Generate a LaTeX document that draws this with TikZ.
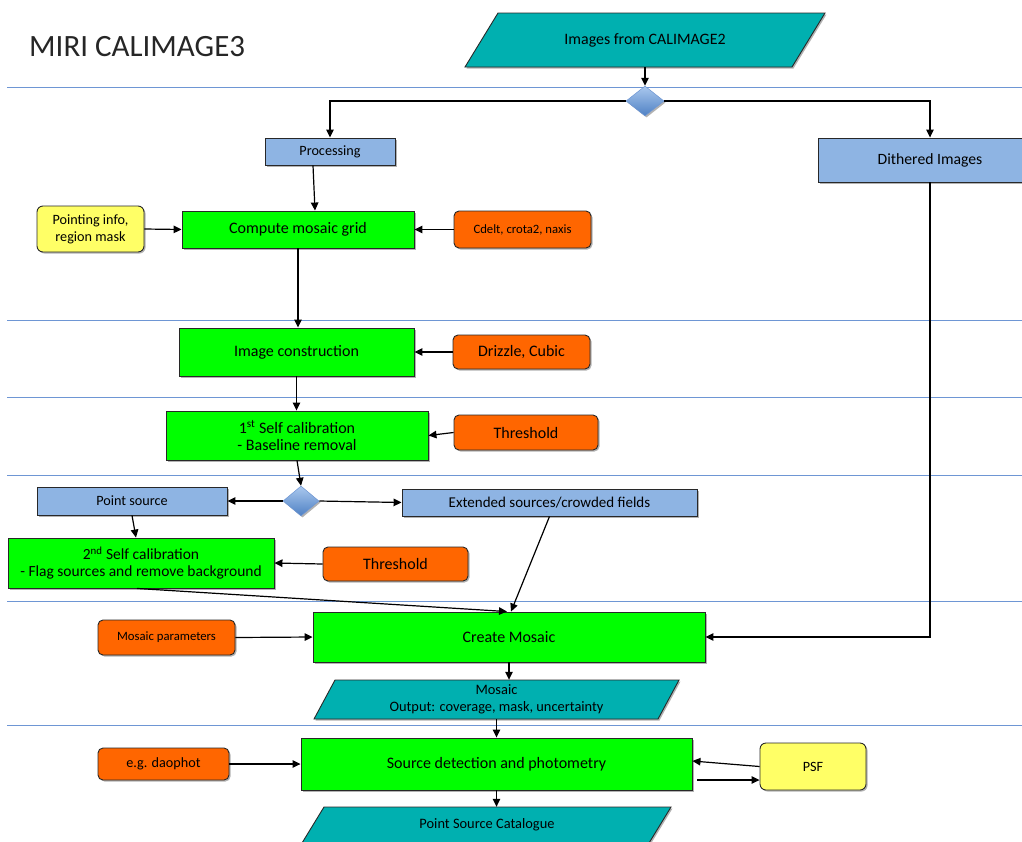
\documentclass[tikz,border=0pt]{standalone}
\usepackage{fontspec}
\setmainfont{Carlito}
\usetikzlibrary{shapes.geometric,arrows.meta,shadows,calc}
\definecolor{boxgreen}{RGB}{0,255,0}
\definecolor{boxorange}{RGB}{255,102,0}
\definecolor{boxyellow}{RGB}{255,255,102}
\definecolor{boxblue}{RGB}{142,180,227}
\definecolor{boxteal}{RGB}{0,176,176}
\definecolor{sepblue}{RGB}{110,150,212}
\definecolor{dtop}{RGB}{170,200,238}
\definecolor{dbot}{RGB}{79,129,196}
\definecolor{edge}{RGB}{40,40,40}
\begin{document}
\begin{tikzpicture}[x=1pt,y=-1pt,
  shadowed/.style={drop shadow={shadow xshift=1.5pt,shadow yshift=-1.5pt,opacity=0.3,fill=black}},
  box/.style={draw=edge,line width=0.9pt,inner sep=1pt,align=center,shadowed,
    font=\fontsize{16}{17}\selectfont},
  greenbox/.style={box,fill=boxgreen},
  bluebox/.style={box,fill=boxblue},
  orangebox/.style={box,fill=boxorange,rounded corners=5pt},
  yellowbox/.style={box,fill=boxyellow,rounded corners=6pt},
  paraframe/.style={draw=edge,line width=0.9pt,fill=boxteal,shadowed},
  paratext/.style={inner sep=0pt,align=center,font=\fontsize{14.4}{17}\selectfont},
  decision/.style={diamond,aspect=1.27,inner sep=0pt,draw=sepblue,line width=0.5pt,
    top color=dtop,bottom color=dbot,shadowed},
  arr/.style={-{Triangle[length=8pt,width=7.5pt]},line width=1.2pt,black},
  sepline/.style={draw=sepblue,line width=1pt},
  small/.style={font=\fontsize{14.2}{17}\selectfont},
  tiny/.style={font=\fontsize{12.7}{15}\selectfont}]
\useasboundingbox (0,0) rectangle (1022,841);
\clip (0,0) rectangle (1022,841);

% separators
\foreach \yy in {87,320,397,475,601,725}
  \draw[sepline] (7,\yy) -- (1022,\yy);

% title
\node[anchor=west,font=\fontsize{31}{31}\selectfont,text=black!85,inner sep=0pt] (title) at (29,47) {MIRI CALIMAGE3};

% top input
\draw[paraframe] (498,13) -- (825,13) -- (792,67) -- (465,67) -- cycle;
\node[paratext,font=\fontsize{15.9}{17}\selectfont,minimum width=300pt,minimum height=54pt] (imgs) at (645,40) {Images from CALIMAGE2};

\node[decision,minimum width=38pt,minimum height=30pt] (d1) at (645,101) {};

\node[bluebox,small,minimum width=130pt,minimum height=27pt] (proc) at (330,151.5) {Processing};
\node[bluebox,font=\fontsize{15.7}{17}\selectfont,minimum width=224pt,minimum height=44pt] (dith) at (930,160) {Dithered Images};

\node[greenbox,minimum width=232pt,minimum height=37pt] (comp) at (298,229.5) {Compute mosaic grid};
\node[yellowbox,small,minimum width=107pt,minimum height=46pt] (pinfo) at (90.5,229) {Pointing info,\\region mask};
\node[orangebox,tiny,minimum width=137pt,minimum height=37pt] (cdelt) at (522.5,229.5) {Cdelt, crota2, naxis};

\node[greenbox,minimum width=235pt,minimum height=48pt] (imgc) at (296.5,352) {Image construction};
\node[orangebox,minimum width=137pt,minimum height=34pt] (drizzle) at (521.5,352) {Drizzle, Cubic};

\node[greenbox,minimum width=262pt,minimum height=49pt] (self1) at (297,435.5) {1\textsuperscript{st} Self calibration\\- Baseline removal};
\node[orangebox,minimum width=144pt,minimum height=35pt] (thr1) at (526,432.5) {Threshold};

\node[decision,minimum width=36pt,minimum height=30pt] (d2) at (301,501) {};
\node[bluebox,small,minimum width=190pt,minimum height=28pt] (ptsrc) at (132,501) {Point source};
\node[bluebox,font=\fontsize{15}{17}\selectfont,minimum width=295pt,minimum height=27pt] (ext) at (549.5,502.5) {Extended sources/crowded fields};

\node[greenbox,font=\fontsize{15.5}{17}\selectfont,minimum width=266pt,minimum height=50pt] (self2) at (141,563) {2\textsuperscript{nd} Self calibration\\- Flag sources and remove background};
\node[orangebox,minimum width=145pt,minimum height=34pt] (thr2) at (395.5,564) {Threshold};

\node[greenbox,minimum width=392pt,minimum height=50pt] (create) at (509,637) {Create Mosaic};
\node[orangebox,tiny,minimum width=137pt,minimum height=35pt] (mospar) at (166.5,637.5) {Mosaic parameters};

\draw[paraframe] (335,680) -- (679,680) -- (658,719) -- (314,719) -- cycle;
\node[paratext,minimum width=320pt,minimum height=39pt] (mos) at (496.5,699.5) {Mosaic\\Output: coverage, mask, uncertainty};

\node[greenbox,minimum width=391pt,minimum height=52pt] (srcdet) at (496.5,764) {Source detection and photometry};
\node[orangebox,small,minimum width=131pt,minimum height=32pt] (daophot) at (163.5,764) {e.g. daophot};
\node[yellowbox,small,minimum width=106pt,minimum height=47pt] (psf) at (813,766.5) {PSF};

\draw[paraframe] (324,807) -- (671,807) -- (649,843) -- (302,843) -- cycle;
\node[paratext,minimum width=320pt,minimum height=36pt] (cat) at (487,825) {Point Source Catalogue};

% connectors
\draw[arr] (imgs.south) -- (d1.north);
\draw[arr] (d1.west) -| (proc.north);
\draw[arr] (d1.east) -| (dith.north);
\draw[arr] (dith.south) |- (create.east);
\draw[arr] ([xshift=-17pt]proc.south) -- ([xshift=17pt]comp.north);
\draw[arr] (pinfo.east) -- (comp.west);
\draw[arr] (cdelt.west) -- (comp.east);
\draw[arr] (comp.south) -- (comp.south |- imgc.north);
\draw[arr] (drizzle.west) -- (imgc.east);
\draw[arr] (imgc.south) -- (imgc.south |- self1.north);
\draw[arr] (thr1.west) -- (self1.east);
\draw[arr] (self1.south) -- (d2.north);
\draw[arr] (d2.west) -- (ptsrc.east);
\draw[arr] (d2.east) -- (ext.west);
\draw[arr] (ptsrc.south) -- ([xshift=-5pt]self2.north);
\draw[arr] (thr2.west) -- (self2.east);
\draw[arr] ([xshift=-4pt]self2.south) -- ([xshift=-2pt]create.north);
\draw[arr] (ext.south) -- ([xshift=2pt]create.north);
\draw[arr] (mospar.east) -- (create.west);
\draw[arr] (create.south) -- (create.south |- mos.north);
\draw[arr] (mos.south) -- (mos.south |- srcdet.north);
\draw[arr] (daophot.east) -- (srcdet.west);
\draw[arr] (psf.west) -- ([yshift=3pt]srcdet.east);
\draw[arr] ([xshift=5pt,yshift=-16pt]srcdet.east) -- ([yshift=-13.5pt]psf.west);
\draw[arr] (srcdet.south) -- (srcdet.south |- cat.north);
\end{tikzpicture}
\end{document}
